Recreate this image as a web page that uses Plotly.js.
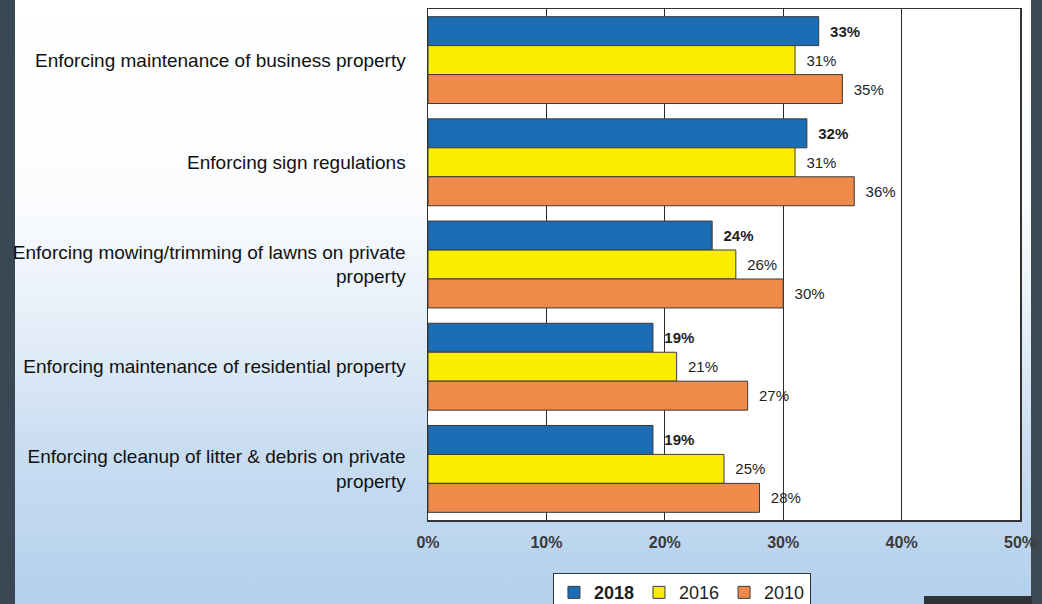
<!DOCTYPE html>
<html>
<head>
<meta charset="utf-8">
<script src="https://cdn.plot.ly/plotly-3.0.1.min.js"></script>
<style>
  html, body { margin: 0; padding: 0; width: 1042px; height: 604px; overflow: hidden; }
  body {
    position: relative;
    background: linear-gradient(to bottom, #ffffff 0px, #fbfcfe 200px, #e4eef8 330px, #c9ddf1 450px, #b4d0ed 604px);
  }
  #strip-left { position: absolute; left: 0; top: 0; width: 15px; height: 604px; background: #3a4856; }
  #strip-right { position: absolute; left: 1031px; top: 0; width: 11px; height: 604px; background: #3c4852; }
  #block-br { position: absolute; left: 924px; top: 596px; width: 108px; height: 8px; background: #2e3338; }
  #chart { position: absolute; left: 0; top: 0; width: 1042px; height: 604px; }
</style>
</head>
<body>
<div id="strip-left"></div>
<div id="strip-right"></div>
<div id="block-br"></div>
<div id="chart"></div>
<script>
const categories = [
  "Enforcing maintenance of business property",
  "Enforcing sign regulations",
  "Enforcing mowing/trimming of lawns on private<br>property",
  "Enforcing maintenance of residential property",
  "Enforcing cleanup of litter &amp; debris on private<br>property"
];
const seriesNames = ["2018", "2016", "2010"];
const values2018 = [33, 32, 24, 19, 19];
const values2016 = [31, 31, 26, 21, 25];
const values2010 = [35, 36, 30, 27, 28];
const tickValues = [0, 10, 20, 30, 40, 50];
const tickLabels = ["0%", "10%", "20%", "30%", "40%", "50%"];

const colors = ["#1b6db5", "#fbec00", "#ef8a4a"];
const allValues = [values2018, values2016, values2010];

const traces = allValues.map((vals, i) => ({
  type: "bar",
  orientation: "h",
  name: i === 0 ? "<b>" + seriesNames[i] + "</b>" : seriesNames[i],
  x: vals,
  y: categories,
  marker: { color: colors[i], line: { color: "#3a3a3a", width: 1 } },
  text: vals.map(v => "  " + v + "%"),
  textposition: "outside",
  cliponaxis: false,
  textfont: { family: "Arial, Liberation Sans, sans-serif", size: 15, color: "#1e1e1e", weight: i === 0 ? "bold" : "normal" },
  hoverinfo: "none"
}));

const layout = {
  width: 1042,
  height: 604,
  margin: { l: 428, r: 22, t: 9, b: 84, autoexpand: false },
  paper_bgcolor: "rgba(0,0,0,0)",
  plot_bgcolor: "#ffffff",
  barmode: "group",
  bargap: 0.15,
  bargroupgap: 0,
  showlegend: true,
  font: { family: "Arial, Liberation Sans, sans-serif", color: "#1e1e1e" },
  xaxis: {
    range: [0, 50],
    tickvals: tickValues,
    ticktext: tickLabels,
    showgrid: true,
    gridcolor: "#2a2a2a",
    gridwidth: 1,
    zeroline: false,
    showline: true,
    linecolor: "#333",
    linewidth: 1.5,
    mirror: true,
    ticks: "",
    ticklabelstandoff: 7,
    tickfont: { size: 16, color: "#3a3a3a", weight: "bold" },
    fixedrange: true
  },
  yaxis: {
    autorange: "reversed",
    showline: true,
    linecolor: "#333",
    linewidth: 1.5,
    mirror: true,
    showgrid: false,
    ticks: "",
    ticklabelstandoff: 17,
    tickfont: { size: 19, color: "#111111" },
    fixedrange: true
  },
  legend: {
    orientation: "h",
    x: 0.429,
    xanchor: "center",
    y: -0.104,
    yanchor: "top",
    bgcolor: "#ffffff",
    bordercolor: "#333",
    borderwidth: 1,
    font: { size: 18, color: "#1e1e1e" },
    itemwidth: 30,
    tracegroupgap: 0
  }
};

Plotly.newPlot("chart", traces, layout, { displayModeBar: false, staticPlot: true });
</script>
</body>
</html>
